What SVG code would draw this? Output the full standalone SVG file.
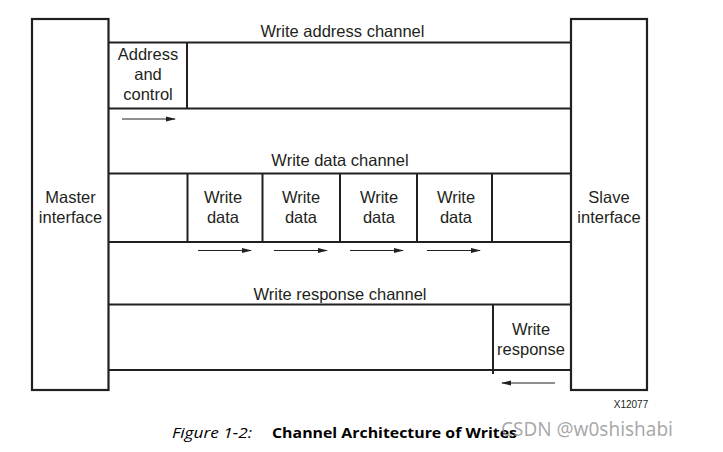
<svg xmlns="http://www.w3.org/2000/svg" width="723" height="452" viewBox="0 0 723 452">
<defs>
<style>
.ln{stroke:#231f20;stroke-width:2;fill:none}
.bx{stroke:#231f20;stroke-width:2.2;fill:#fff}
.t{font-family:"Liberation Sans",Arial,sans-serif;font-size:16.5px;fill:#231f20;text-anchor:middle}
.ar{stroke:#231f20;stroke-width:1.2;fill:none}
</style>
<marker id="ah" markerWidth="10" markerHeight="6" refX="9" refY="3" orient="auto" markerUnits="userSpaceOnUse">
<path d="M0,0.5 L10,3 L0,5.5 Z" fill="#231f20"/>
</marker>
</defs>
<rect width="723" height="452" fill="#fff"/>

<g id="connectors">
<line class="ln" x1="108" y1="42.5" x2="571" y2="42.5"/>
<line class="ln" x1="108" y1="108.5" x2="571" y2="108.5"/>
<line class="ln" x1="108" y1="173.5" x2="571" y2="173.5"/>
<line class="ln" x1="108" y1="242" x2="571" y2="242"/>
<line class="ln" x1="108" y1="304.5" x2="571" y2="304.5"/>
<line class="ln" x1="108" y1="370" x2="571" y2="370"/>
<line class="ar" x1="122" y1="119" x2="175" y2="119" marker-end="url(#ah)"/>
<line class="ar" x1="198" y1="250.5" x2="251" y2="250.5" marker-end="url(#ah)"/>
<line class="ar" x1="274" y1="250.5" x2="327" y2="250.5" marker-end="url(#ah)"/>
<line class="ar" x1="350" y1="250.5" x2="403" y2="250.5" marker-end="url(#ah)"/>
<line class="ar" x1="427" y1="250.5" x2="480" y2="250.5" marker-end="url(#ah)"/>
<line class="ar" x1="555" y1="383" x2="502" y2="383" marker-end="url(#ah)"/>
</g>

<g id="master">
<rect class="bx" x="32" y="19" width="76.5" height="371"/>
<text class="t" x="70.5" y="203">Master</text>
<text class="t" x="70.5" y="223">interface</text>
</g>

<g id="slave">
<rect class="bx" x="571" y="19" width="76" height="371"/>
<text class="t" x="609" y="203">Slave</text>
<text class="t" x="609" y="223">interface</text>
</g>

<g id="write-address-channel">
<text class="t" x="342.5" y="37">Write address channel</text>
<line class="ln" x1="187" y1="42.5" x2="187" y2="108.5"/>
</g>
<g id="address-and-control">
<text class="t" x="148" y="60">Address</text>
<text class="t" x="148" y="80">and</text>
<text class="t" x="148" y="100">control</text>
</g>

<g id="write-data-channel">
<text class="t" x="340" y="166">Write data channel</text>
<line class="ln" x1="187.5" y1="173.5" x2="187.5" y2="242"/>
<line class="ln" x1="262.5" y1="173.5" x2="262.5" y2="242"/>
<line class="ln" x1="340" y1="173.5" x2="340" y2="242"/>
<line class="ln" x1="417" y1="173.5" x2="417" y2="242"/>
<line class="ln" x1="492" y1="173.5" x2="492" y2="242"/>
</g>
<g id="write-data-1"><text class="t" x="223" y="203">Write</text><text class="t" x="223" y="223">data</text></g>
<g id="write-data-2"><text class="t" x="301" y="203">Write</text><text class="t" x="301" y="223">data</text></g>
<g id="write-data-3"><text class="t" x="379" y="203">Write</text><text class="t" x="379" y="223">data</text></g>
<g id="write-data-4"><text class="t" x="456" y="203">Write</text><text class="t" x="456" y="223">data</text></g>

<g id="write-response-channel">
<text class="t" x="340" y="300">Write response channel</text>
<line class="ln" x1="493" y1="304.5" x2="493" y2="374"/>
</g>
<g id="write-response">
<text class="t" x="531" y="335">Write</text>
<text class="t" x="531" y="355">response</text>
</g>

<text x="631" y="407.5" font-family="'Liberation Sans',Arial,sans-serif" font-size="10" fill="#231f20" text-anchor="middle">X12077</text>

<text x="172" y="438" font-family="'Open Sans','Noto Sans',sans-serif" font-size="15" font-style="italic" fill="#000" textLength="80" lengthAdjust="spacingAndGlyphs">Figure 1-2:</text>
<text x="272" y="438" font-family="'Open Sans','Noto Sans',sans-serif" font-size="15" font-weight="bold" fill="#000" textLength="245" lengthAdjust="spacingAndGlyphs">Channel Architecture of Writes</text>
<text x="501" y="435.5" font-family="'Noto Sans','Liberation Sans',sans-serif" font-size="19.5" fill="#8c8c8c" fill-opacity="0.75" textLength="172" lengthAdjust="spacingAndGlyphs">CSDN @w0shishabi</text>
</svg>
